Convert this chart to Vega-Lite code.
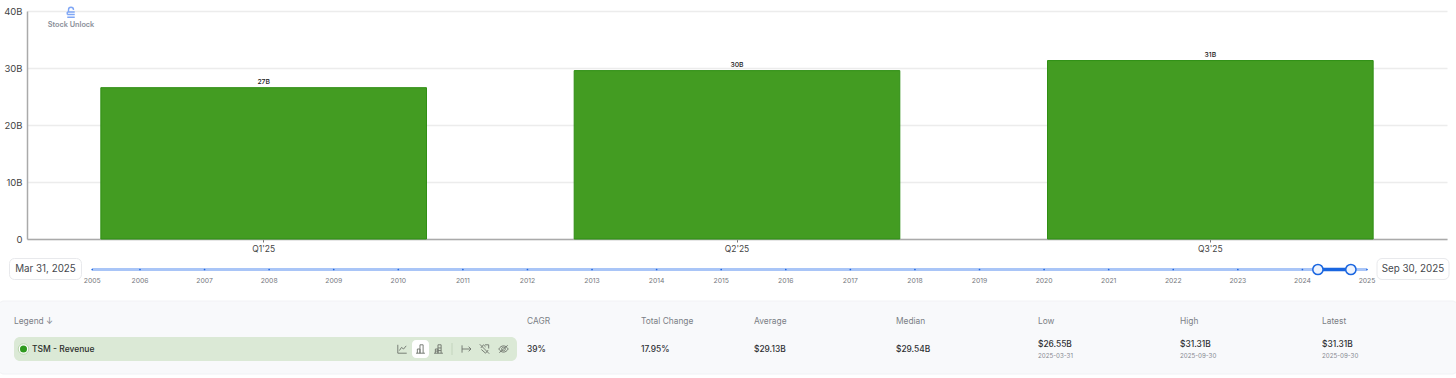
{
"$schema":"https://vega.github.io/schema/vega-lite/v6.json",
"width":1456,"height":378,"padding":0,"autosize":{"type":"none"},"background":"#ffffff",
"config":{"font":"Inter","view":{"stroke":null},"text":{"font":"Inter"}},
"datasets":{
"rev":[{"q":"Q1'25","rev":26.55,"label":"27B"},{"q":"Q2'25","rev":29.54,"label":"30B"},{"q":"Q3'25","rev":31.31,"label":"31B"}],
"years":[{"p":2005.26,"t":"2005"},{"p":2006,"t":"2006"},{"p":2007,"t":"2007"},{"p":2008,"t":"2008"},{"p":2009,"t":"2009"},{"p":2010,"t":"2010"},{"p":2011,"t":"2011"},{"p":2012,"t":"2012"},{"p":2013,"t":"2013"},{"p":2014,"t":"2014"},{"p":2015,"t":"2015"},{"p":2016,"t":"2016"},{"p":2017,"t":"2017"},{"p":2018,"t":"2018"},{"p":2019,"t":"2019"},{"p":2020,"t":"2020"},{"p":2021,"t":"2021"},{"p":2022,"t":"2022"},{"p":2023,"t":"2023"},{"p":2024,"t":"2024"},{"p":2025,"t":"2025"}],
"heads":[{"c":0,"t":"Legend ↓"},{"c":1,"t":"CAGR"},{"c":2,"t":"Total Change"},{"c":3,"t":"Average"},{"c":4,"t":"Median"},{"c":5,"t":"Low"},{"c":6,"t":"High"},{"c":7,"t":"Latest"}],
"vals":[{"c":1,"r":1,"t":"39%"},{"c":2,"r":1,"t":"17.95%"},{"c":3,"r":1,"t":"$29.13B"},{"c":4,"r":1,"t":"$29.54B"},{"c":5,"r":2,"t":"$26.55B"},{"c":6,"r":2,"t":"$31.31B"},{"c":7,"r":2,"t":"$31.31B"}],
"subs":[{"c":5,"t":"2025-03-31"},{"c":6,"t":"2025-09-30"},{"c":7,"t":"2025-09-30"}],
"icons":[{"s":0,"i":"line"},{"s":1,"i":"bar"},{"s":2,"i":"stack"},{"s":3,"i":"extend"},{"s":4,"i":"tag"},{"s":5,"i":"eye"}]
},
"layer":[
{"data":{"name":"rev"},"mark":{"type":"bar","fill":"#439c22","stroke":"#2f8f14","strokeWidth":1},
 "encoding":{
  "x":{"field":"q","type":"nominal","sort":null,"scale":{"type":"band","range":[27,1447],"paddingInner":0.312,"paddingOuter":0.156},"axis":{"title":null,"labelAngle":0,"offset":-139,"domainColor":"#aaaaaa","domainWidth":1.5,"tickColor":"#777777","tickSize":3,"labelFontSize":8.5,"labelColor":"#444444","labelPadding":2,"grid":false}},
  "y":{"field":"rev","type":"quantitative","scale":{"domain":[0,40],"range":[239,11],"nice":false},"axis":{"title":null,"values":[0,10,20,30,40],"offset":-27,"labelExpr":"datum.value==0?'0':datum.value+'B'","domainColor":"#aaaaaa","domainWidth":1.5,"ticks":false,"labelFontSize":9.5,"labelColor":"#444444","labelPadding":5,"grid":true,"gridColor":"#ececec","gridWidth":1.5}}}},
{"data":{"name":"rev"},"mark":{"type":"text","fontSize":6.8,"fontWeight":500,"color":"#222222","dy":-6},
 "encoding":{
  "x":{"field":"q","type":"nominal","sort":null,"scale":{"type":"band","range":[27,1447],"paddingInner":0.312,"paddingOuter":0.156},"axis":null},
  "y":{"field":"rev","type":"quantitative","scale":{"domain":[0,40],"range":[239,11],"nice":false},"axis":null},
  "text":{"field":"label"}}},
{"data":{"values":[{"s":0,"v":37.6,"t":"Stock Unlock"}]},"mark":{"type":"text","fontSize":7.3,"fontWeight":600,"color":"#8a8f99"},
 "encoding":{
  "x":{"field":"s","type":"quantitative","scale":{"domain":[0,1],"range":[71,72]},"axis":null},
  "y":{"field":"v","type":"quantitative","scale":{"domain":[0,40],"range":[239,11],"nice":false},"axis":null},
  "text":{"field":"t"}}},
{"data":{"values":[{"s":0,"v":39.75}]},"mark":{"type":"point","filled":false,"stroke":"#7fa6f5","strokeWidth":1.4,"size":100,"opacity":1,"shape":"M-0.5,-0.25V-0.5C-0.5,-1.2,0.5,-1.2,0.5,-0.5M-0.75,-0.1H0.75M-0.75,0.4H0.75M-0.75,0.95H0.75M-0.75,-0.1V0.4"},
 "encoding":{
  "x":{"field":"s","type":"quantitative","scale":{"domain":[0,1],"range":[71,72]},"axis":null},
  "y":{"field":"v","type":"quantitative","scale":{"domain":[0,40],"range":[239,11],"nice":false},"axis":null}}},
{"data":{"values":[{"a":0,"b":1,"r0":0,"r1":1}]},"mark":{"type":"rect","fill":"#f8f9fb","stroke":"#f1f2f5","strokeWidth":1,"cornerRadius":6},
 "encoding":{
  "x":{"field":"a","type":"quantitative","scale":{"domain":[0,1],"range":[-2,1458]},"axis":null},"x2":{"field":"b"},
  "y":{"field":"r0","type":"quantitative","scale":{"domain":[0,1],"range":[301,374]},"axis":null},"y2":{"field":"r1"}}},
{"data":{"values":[{"a":0,"b":1,"r0":0,"r1":1}]},"mark":{"type":"rect","fill":"#dbe9d6","cornerRadius":6},
 "encoding":{
  "x":{"field":"a","type":"quantitative","scale":{"domain":[0,1],"range":[14,517]},"axis":null},"x2":{"field":"b"},
  "y":{"field":"r0","type":"quantitative","scale":{"domain":[0,1],"range":[337,361]},"axis":null},"y2":{"field":"r1"}}},
{"data":{"values":[{"a":0,"b":1,"r0":0,"r1":1}]},"mark":{"type":"rect","fill":"#ffffff","cornerRadius":4},
 "encoding":{
  "x":{"field":"a","type":"quantitative","scale":{"domain":[0,1],"range":[412,429]},"axis":null},"x2":{"field":"b"},
  "y":{"field":"r0","type":"quantitative","scale":{"domain":[0,1],"range":[340,358]},"axis":null},"y2":{"field":"r1"}}},
{"data":{"values":[{"s":0,"r0":0,"r1":1}]},"mark":{"type":"rule","stroke":"#c3d4bd","strokeWidth":1},
 "encoding":{
  "x":{"field":"s","type":"quantitative","scale":{"domain":[0,1],"range":[452,453]},"axis":null},
  "y":{"field":"r0","type":"quantitative","scale":{"domain":[0,1],"range":[343,355]},"axis":null},"y2":{"field":"r1"}}},
{"data":{"name":"icons"},"mark":{"type":"point","filled":false,"stroke":"#6d736b","strokeWidth":0.9,"size":110,"opacity":1},
 "encoding":{
  "x":{"field":"s","type":"quantitative","scale":{"domain":[0,1,2,3,4,5],"range":[402,420.5,438.5,466.5,484.5,503.5]},"axis":null},
  "y":{"datum":0,"type":"quantitative","scale":{"domain":[0,1],"range":[349,350]},"axis":null},
  "shape":{"field":"i","type":"nominal","legend":null,"scale":{"domain":["line","bar","stack","extend","tag","eye"],"range":[
   "M-0.8,-0.8V0.8H0.9M-0.5,0.3L-0.1,-0.3L0.3,0L0.8,-0.6",
   "M-0.85,0.8H0.85M-0.6,0.8V0H-0.1V0.8M-0.1,0.8V-0.8H0.5V0.8",
   "M-0.85,0.8H0.85M-0.6,0.8V0H-0.1V0.8M-0.1,0.8V-0.8H0.5V0.8M-0.6,0.4H-0.1M-0.1,-0.2H0.5M-0.1,0.3H0.5",
   "M-0.85,-0.7V0.7M-0.85,0H0.85M0.4,-0.45L0.85,0L0.4,0.45",
   "M-0.9,-0.9L0.9,0.9M-0.7,-0.2L-0.2,-0.8L0.2,-0.4M0.7,0.2L0.2,0.8L-0.6,0.1M0.1,-0.8H0.8V-0.1",
   "M-0.9,0C-0.4,-0.8,0.4,-0.8,0.9,0C0.4,0.8,-0.4,0.8,-0.9,0ZM0,-0.35A0.35,0.35,0,1,1,-0.01,-0.35M-0.8,0.7L0.8,-0.7"
  ]}}}},
{"data":{"values":[{"s":0,"d":"ring"}]},"mark":{"type":"point","filled":true,"fill":"#ffffff","stroke":"#b9d5ae","strokeWidth":1,"size":110,"opacity":1},
 "encoding":{
  "x":{"field":"s","type":"quantitative","scale":{"domain":[0,1],"range":[23.5,24.5]},"axis":null},
  "y":{"field":"s","type":"quantitative","scale":{"domain":[0,1],"range":[349,350]},"axis":null}}},
{"data":{"values":[{"s":0,"d":"dot"}]},"mark":{"type":"point","filled":true,"fill":"#2e9a1e","stroke":null,"size":50,"opacity":1},
 "encoding":{
  "x":{"field":"s","type":"quantitative","scale":{"domain":[0,1],"range":[23.5,24.5]},"axis":null},
  "y":{"field":"s","type":"quantitative","scale":{"domain":[0,1],"range":[349,350]},"axis":null}}},
{"data":{"values":[{"s":0,"t":"TSM - Revenue"}]},"mark":{"type":"text","align":"left","baseline":"middle","fontSize":8.5,"fontWeight":500,"color":"#2c2f2c"},
 "encoding":{
  "x":{"field":"s","type":"quantitative","scale":{"domain":[0,1],"range":[32,33]},"axis":null},
  "y":{"field":"s","type":"quantitative","scale":{"domain":[0,1],"range":[349,350]},"axis":null},
  "text":{"field":"t"}}},
{"data":{"name":"heads"},"mark":{"type":"text","align":"left","baseline":"middle","fontSize":8.4,"color":"#7b7f86"},
 "encoding":{
  "x":{"field":"c","type":"quantitative","scale":{"domain":[0,1,2,3,4,5,6,7],"range":[14,527,641,754,896,1038,1180,1322]},"axis":null},
  "y":{"field":"c","type":"quantitative","scale":{"domain":[0,7],"range":[321,321]},"axis":null},
  "text":{"field":"t"}}},
{"data":{"name":"vals"},"mark":{"type":"text","align":"left","baseline":"middle","fontSize":8.4,"fontWeight":500,"color":"#2e2f33"},
 "encoding":{
  "x":{"field":"c","type":"quantitative","scale":{"domain":[0,1,2,3,4,5,6,7],"range":[14,527,641,754,896,1038,1180,1322]},"axis":null},
  "y":{"field":"r","type":"quantitative","scale":{"domain":[1,2],"range":[349,344]},"axis":null},
  "text":{"field":"t"}}},
{"data":{"name":"subs"},"mark":{"type":"text","align":"left","baseline":"middle","fontSize":6.2,"color":"#85888f"},
 "encoding":{
  "x":{"field":"c","type":"quantitative","scale":{"domain":[0,1,2,3,4,5,6,7],"range":[14,527,641,754,896,1038,1180,1322]},"axis":null},
  "y":{"field":"c","type":"quantitative","scale":{"domain":[0,7],"range":[355.5,355.5]},"axis":null},
  "text":{"field":"t"}}},
{"data":{"values":[{"a":2005.26,"b":2025,"r":0}]},"mark":{"type":"rule","stroke":"#a9c5f7","strokeWidth":3},
 "encoding":{
  "x":{"field":"a","type":"quantitative","scale":{"domain":[2005,2025],"range":[75.4,1367]},"axis":null},"x2":{"field":"b"},
  "y":{"field":"r","type":"quantitative","scale":{"domain":[0,1],"range":[269.5,281]},"axis":null}}},
{"data":{"name":"years"},"mark":{"type":"point","filled":true,"fill":"#1f66e0","stroke":null,"size":3,"opacity":1},
 "encoding":{
  "x":{"field":"p","type":"quantitative","scale":{"domain":[2005,2025],"range":[75.4,1367]},"axis":null},
  "y":{"datum":0,"type":"quantitative","scale":{"domain":[0,1],"range":[269.5,281]},"axis":null}}},
{"data":{"name":"years"},"mark":{"type":"text","fontSize":6.8,"baseline":"middle","color":"#75787e"},
 "encoding":{
  "x":{"field":"p","type":"quantitative","scale":{"domain":[2005,2025],"range":[75.4,1367]},"axis":null},
  "y":{"datum":1,"type":"quantitative","scale":{"domain":[0,1],"range":[269.5,281]},"axis":null},
  "text":{"field":"t"}}},
{"data":{"values":[{"a":2024.24,"b":2024.75,"r":0}]},"mark":{"type":"rule","stroke":"#1a66e0","strokeWidth":3.5},
 "encoding":{
  "x":{"field":"a","type":"quantitative","scale":{"domain":[2005,2025],"range":[75.4,1367]},"axis":null},"x2":{"field":"b"},
  "y":{"field":"r","type":"quantitative","scale":{"domain":[0,1],"range":[269.5,281]},"axis":null}}},
{"data":{"values":[{"p":2024.24,"r":0},{"p":2024.75,"r":0}]},"mark":{"type":"point","filled":true,"fill":"#eef3fd","stroke":"#1a66e0","strokeWidth":1.5,"size":105,"opacity":1},
 "encoding":{
  "x":{"field":"p","type":"quantitative","scale":{"domain":[2005,2025],"range":[75.4,1367]},"axis":null},
  "y":{"field":"r","type":"quantitative","scale":{"domain":[0,1],"range":[269.5,281]},"axis":null}}},
{"data":{"values":[{"a":0,"b":1,"r0":0,"r1":1},{"a":2,"b":3,"r0":0,"r1":1}]},"mark":{"type":"rect","fill":"#ffffff","stroke":"#e8e9ec","strokeWidth":1,"cornerRadius":5},
 "encoding":{
  "x":{"field":"a","type":"quantitative","scale":{"domain":[0,1,2,3],"range":[9.5,81.5,1377,1449]},"axis":null},"x2":{"field":"b"},
  "y":{"field":"r0","type":"quantitative","scale":{"domain":[0,1],"range":[258.5,279.5]},"axis":null},"y2":{"field":"r1"}}},
{"data":{"values":[{"a":0.5,"r":0.5,"t":"Mar 31, 2025"},{"a":2.5,"r":0.5,"t":"Sep 30, 2025"}]},"mark":{"type":"text","baseline":"middle","fontSize":9.8,"color":"#46484d"},
 "encoding":{
  "x":{"field":"a","type":"quantitative","scale":{"domain":[0,1,2,3],"range":[9.5,81.5,1377,1449]},"axis":null},
  "y":{"field":"r","type":"quantitative","scale":{"domain":[0,1],"range":[258.5,279.5]},"axis":null},
  "text":{"field":"t"}}}
],
"resolve":{"scale":{"x":"independent","y":"independent","shape":"independent"}}
}
